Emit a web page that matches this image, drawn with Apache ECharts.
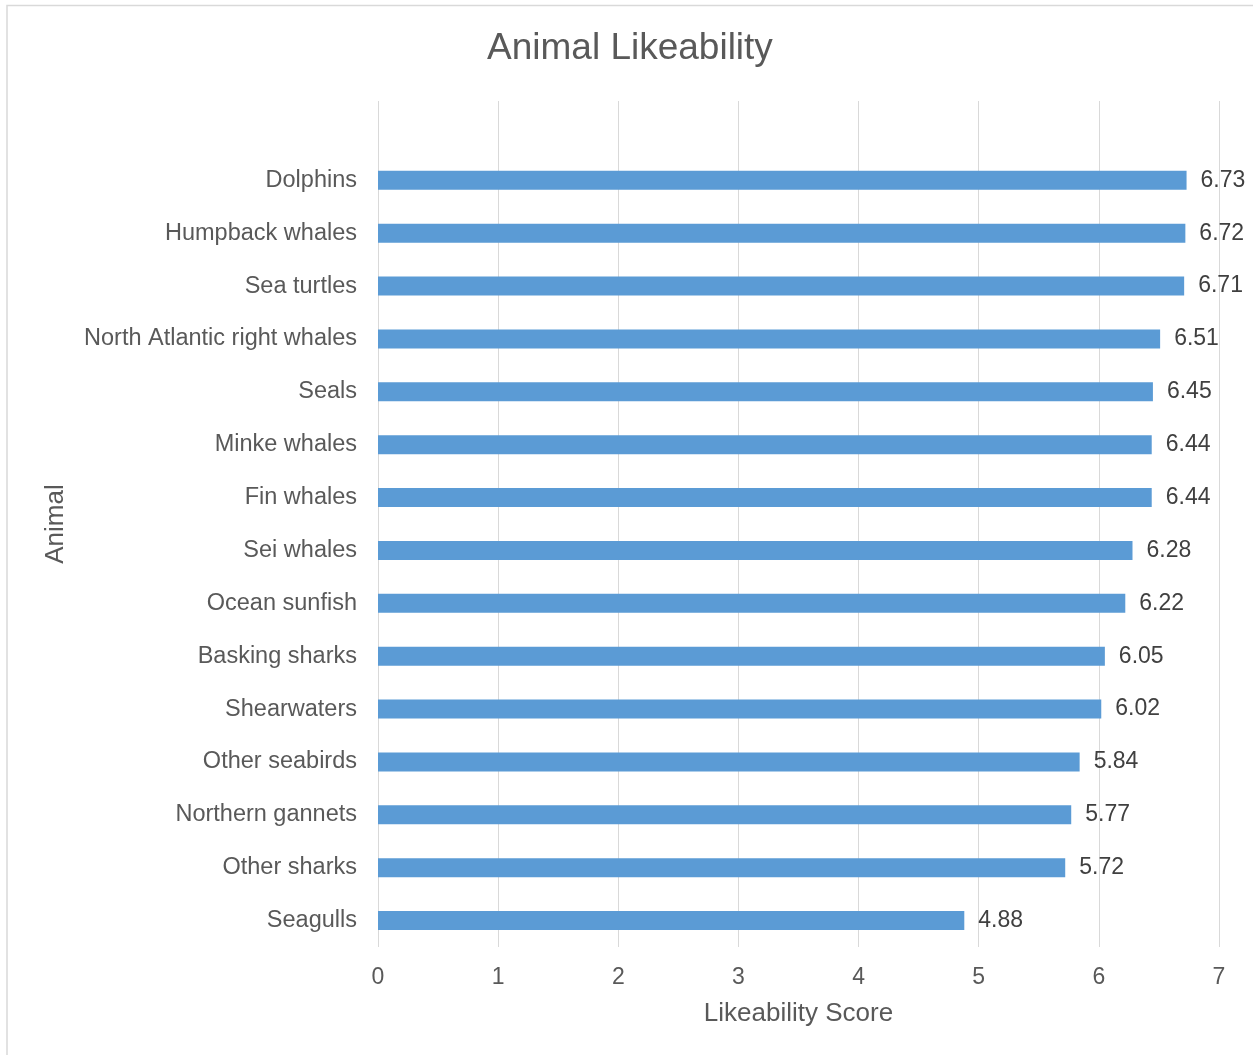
<!DOCTYPE html>
<html>
<head>
<meta charset="utf-8">
<title>Animal Likeability</title>
<script src="https://cdn.jsdelivr.net/npm/echarts@6/dist/echarts.min.js"></script>
<style>
  html, body { margin: 0; padding: 0; background: #ffffff; }
  #chart { width: 1253px; height: 1055px; }
</style>
</head>
<body>
<div id="chart"></div>
<script>
// Survey results: mean likeability score per animal (top to bottom)
const animals = [
  'Dolphins', 'Humpback whales', 'Sea turtles', 'North Atlantic right whales',
  'Seals', 'Minke whales', 'Fin whales', 'Sei whales', 'Ocean sunfish',
  'Basking sharks', 'Shearwaters', 'Other seabirds', 'Northern gannets',
  'Other sharks', 'Seagulls'
];
const scores = [6.73, 6.72, 6.71, 6.51, 6.45, 6.44, 6.44, 6.28, 6.22, 6.05, 6.02, 5.84, 5.77, 5.72, 4.88];
const xTicks = [0, 1, 2, 3, 4, 5, 6, 7];

const FONT = '"Liberation Sans", Arial, sans-serif';
const TEXT = '#595959';
const GRID = '#d9d9d9';

// an empty slot above the first animal leaves headroom in the plot area
const axisCats = [''].concat(animals);
const axisVals = [null].concat(scores);

const chart = echarts.init(document.getElementById('chart'), null, { renderer: 'canvas' });
chart.setOption({
  backgroundColor: '#ffffff',
  animation: false,
  textStyle: { fontFamily: FONT, color: TEXT },
  title: {
    text: 'Animal Likeability',
    left: 487,
    top: 30,
    padding: 0,
    textStyle: { fontFamily: FONT, color: TEXT, fontSize: 37, fontWeight: 'normal' }
  },
  grid: { left: 378, right: 34, top: 101, bottom: 108, containLabel: false },
  xAxis: {
    type: 'value',
    min: xTicks[0],
    max: xTicks[xTicks.length - 1],
    interval: 1,
    name: 'Likeability Score',
    nameLocation: 'middle',
    nameGap: 54,
    nameTextStyle: { fontFamily: FONT, color: TEXT, fontSize: 26, verticalAlign: 'top' },
    axisLine: { show: false },
    axisTick: { show: false },
    axisLabel: { fontFamily: FONT, color: TEXT, fontSize: 23, margin: 19 },
    splitLine: { show: true, lineStyle: { color: GRID, width: 1 } }
  },
  yAxis: {
    type: 'category',
    data: axisCats,
    inverse: true,
    name: 'Animal',
    nameLocation: 'middle',
    nameGap: 309,
    nameTextStyle: { fontFamily: FONT, color: TEXT, fontSize: 26 },
    axisLine: { show: false },
    axisTick: { show: false },
    axisLabel: { fontFamily: FONT, color: TEXT, fontSize: 23.5, margin: 21, padding: [2, 0, 0, 0] },
    splitLine: { show: false }
  },
  series: [{
    type: 'bar',
    data: axisVals,
    barWidth: 19,
    itemStyle: { color: '#5B9BD5' },
    label: {
      show: true,
      position: 'right',
      distance: 14,
      padding: [2, 0, 0, 0],
      fontFamily: FONT,
      fontSize: 23,
      color: '#404040',
      formatter: p => (p.value == null ? '' : Number(p.value).toFixed(2))
    }
  }],
  graphic: [{
    type: 'rect',
    silent: true,
    shape: { x: 7, y: 5.5, width: 1300, height: 1100 },
    style: { fill: 'none', stroke: GRID, lineWidth: 1.5 }
  }]
});
</script>
</body>
</html>
